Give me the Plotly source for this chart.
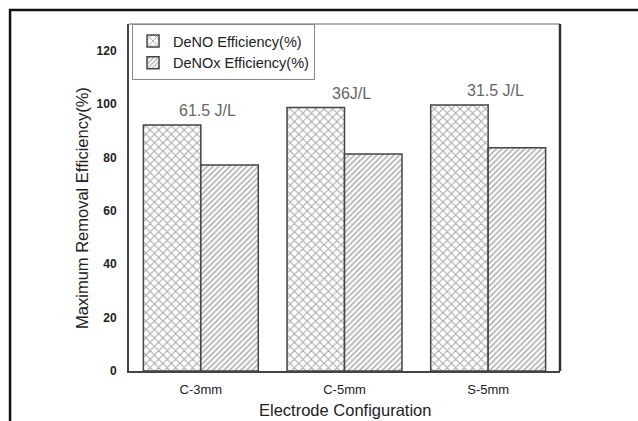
import plotly.graph_objects as go

categories = ["C-3mm", "C-5mm", "S-5mm"]
deno = [92.2, 98.7, 99.7]
denox = [77.2, 81.3, 83.6]
energy_labels = ["61.5 J/L", "36J/L", "31.5 J/L"]
series_names = ["DeNO Efficiency(%)", "DeNOx Efficiency(%)"]
y_ticks = [0, 20, 40, 60, 80, 100, 120]

FONT = "Liberation Sans, Arial, sans-serif"

fig = go.Figure()
fig.add_trace(go.Bar(
    x=categories, y=deno, name=series_names[0],
    marker=dict(color="white", line=dict(color="#444", width=1.5),
                pattern=dict(shape="x", size=6, solidity=0.35, fgcolor="#555", bgcolor="white")),
))
fig.add_trace(go.Bar(
    x=categories, y=denox, name=series_names[1],
    marker=dict(color="white", line=dict(color="#444", width=1.5),
                pattern=dict(shape="/", size=4, solidity=0.45, fgcolor="#666", bgcolor="white")),
))

for cat, val, lab in zip(categories, deno, energy_labels):
    fig.add_annotation(x=cat, y=val, text=lab, showarrow=False, xanchor="center", yanchor="bottom",
                       xshift=7, yshift=4, font=dict(family=FONT, size=16, color="#666"))

# axis titles as annotations
fig.add_annotation(xref="paper", yref="paper", x=-0.109, y=0.47, text="Maximum Removal Efficiency(%)",
                   textangle=-90, showarrow=False, xanchor="center", yanchor="middle",
                   font=dict(family=FONT, size=16.5, color="#222"))
fig.add_annotation(xref="paper", yref="paper", x=0.5, y=-0.112, text="Electrode Configuration",
                   showarrow=False, xanchor="center", yanchor="middle",
                   font=dict(family=FONT, size=16.5, color="#222"))

# frame lines
fig.add_shape(type="line", xref="paper", yref="paper", x0=0, x1=1, y0=1, y1=1,
              line=dict(color="#999", width=1.5))
fig.add_shape(type="line", xref="paper", yref="paper", x0=1, x1=1, y0=0, y1=1,
              line=dict(color="#333", width=2.5))
# outer figure border
fig.add_shape(type="rect", xref="paper", yref="paper", x0=-0.276, x1=1.4, y0=-0.3, y1=1.040,
              line=dict(color="#111", width=2.5), fillcolor="rgba(0,0,0,0)", layer="below")

fig.update_layout(
    width=638, height=421,
    margin=dict(l=129, r=78, t=24, b=50),
    paper_bgcolor="white", plot_bgcolor="white",
    barmode="group", bargap=0.2, bargroupgap=0,
    font=dict(family=FONT, color="#222"),
    legend=dict(x=0.007, y=1, xanchor="left", yanchor="top",
                bordercolor="#888", borderwidth=1, bgcolor="white",
                font=dict(family=FONT, size=14.5, color="#222"),
                tracegroupgap=0, itemwidth=30),
    xaxis=dict(showline=True, linecolor="#444", linewidth=2, ticks="",
               tickfont=dict(family=FONT, size=13, color="#222"), showgrid=False,
               range=[-0.5, 2.5], ticklabelstandoff=5),
    yaxis=dict(showline=True, linecolor="#444", linewidth=2, ticks="", range=[0, 130],
               tickvals=y_ticks, showgrid=False, zeroline=False, ticklabelstandoff=8,
               tickfont=dict(family=FONT, size=12, color="#222", weight="bold")),
)

fig.write_html("out.html")
